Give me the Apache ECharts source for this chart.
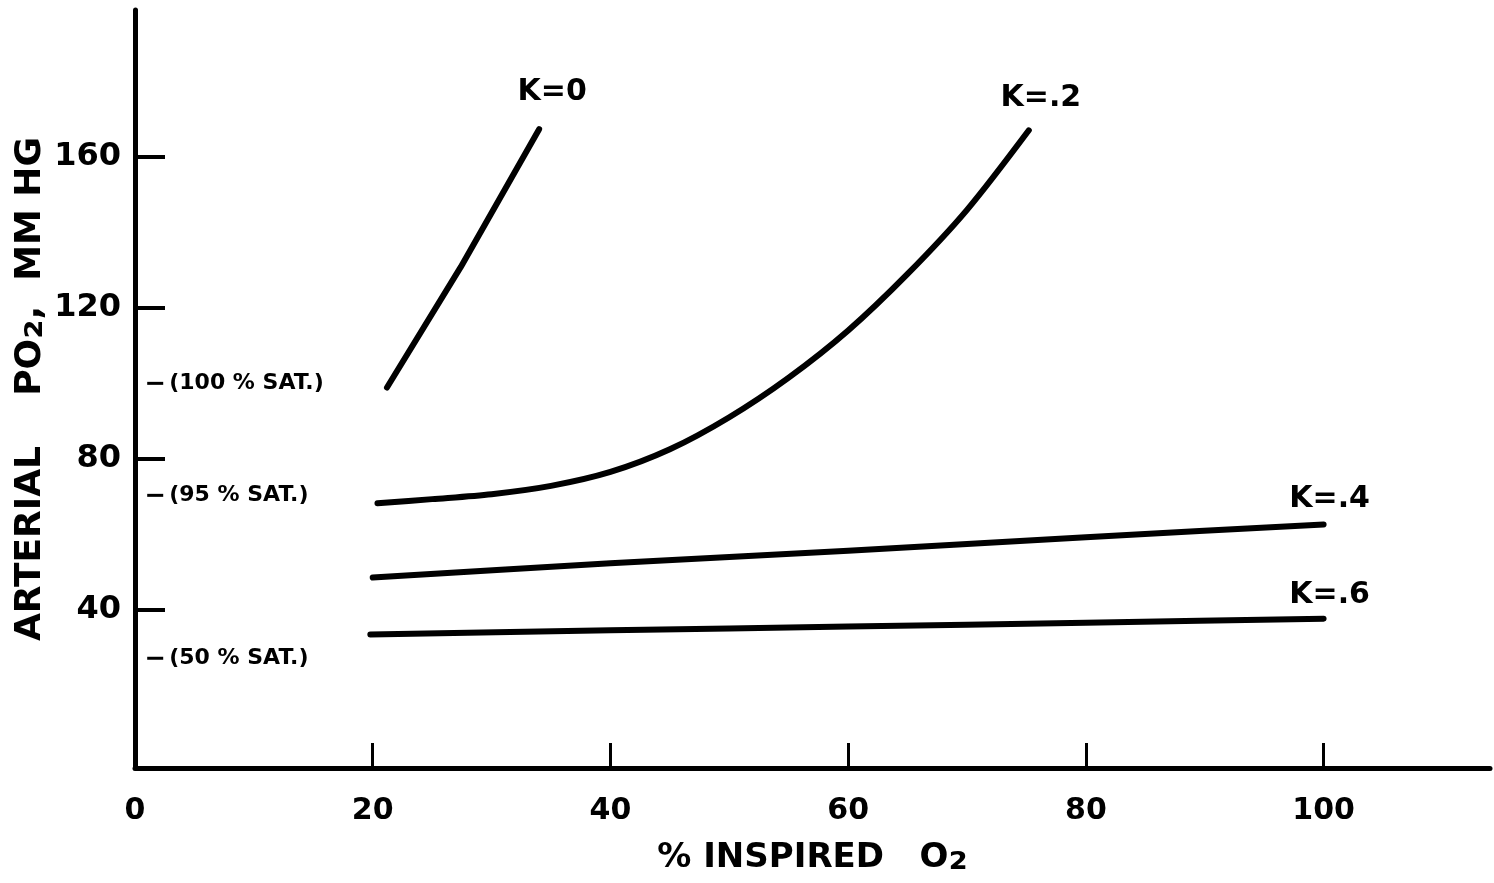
<!DOCTYPE html>
<html>
<head>
<meta charset="utf-8">
<script src="https://cdn.jsdelivr.net/npm/echarts@6/dist/echarts.min.js"></script>
<style>
  html, body { margin: 0; background: #fff; }
  #chart { width: 1494px; height: 883px; }
</style>
</head>
<body>
<div id="chart"></div>
<script>
// values
const xLabels = [0, 20, 40, 60, 80, 100];
const xTickValues = [20, 40, 60, 80, 100];
const yTicks = [40, 80, 120, 160];

const curveNames = ["K=0", "K=.2", "K=.4", "K=.6"];
const k0 = [[21.2, 98.9], [27.4, 130.8], [34.0, 167.4]];
const k2 = [
  [20.4, 68.2], [25, 69.3], [30, 70.6], [35, 72.8], [40, 76.5], [45, 82.5],
  [50, 91.0], [55, 101.5], [60, 114.0], [65, 129.0], [70, 146.0], [75.2, 167.1]
];
const k4 = [[20.0, 48.5], [40, 52.3], [60, 55.6], [80, 59.2], [100, 62.6]];
const k6 = [[19.8, 33.4], [40, 34.5], [60, 35.5], [80, 36.5], [100, 37.6]];

const satValues = [100, 70.3, 27.1];
const satLabels = ["(100 % SAT.)", "(95 % SAT.)", "(50 % SAT.)"];

const ink = "#000";
const font = "'DejaVu Sans', Verdana, sans-serif";

const chart = echarts.init(document.getElementById("chart"));

const curve = (name, pts, smooth, offset) => ({
  name: name,
  type: "line",
  data: pts,
  smooth: smooth,
  symbol: "none",
  lineStyle: { color: ink, width: 6, cap: "round", join: "round" },
  endLabel: {
    show: true,
    formatter: name,
    color: ink,
    fontFamily: font,
    fontWeight: "bold",
    fontSize: 30,
    align: "center",
    verticalAlign: "bottom",
    distance: 0,
    offset: offset,
  },
});

const option = {
  animation: false,
  backgroundColor: "#fff",
  grid: { left: 135, right: 4, top: 10, bottom: 115, outerBoundsMode: "none", containLabel: false },
  xAxis: {
    type: "value",
    min: 0,
    max: 114,
    axisLine: { show: true, onZero: false, lineStyle: { color: ink, width: 5 } },
    axisTick: {
      show: true,
      inside: true,
      length: 25,
      customValues: xTickValues,
      lineStyle: { color: ink, width: 3 },
    },
    axisLabel: {
      customValues: xLabels,
      color: ink,
      fontFamily: font,
      fontWeight: "bold",
      fontSize: 30,
      margin: 28,
    },
    splitLine: { show: false },
    name: "{a|% INSPIRED   O}{s|₂}",
    nameLocation: "middle",
    nameGap: 68,
    nameTextStyle: {
      rich: {
        a: { color: ink, fontFamily: font, fontWeight: "bold", fontSize: 34 },
        s: { color: ink, fontFamily: font, fontWeight: "bold", fontSize: 44 },
      },
    },
  },
  yAxis: {
    type: "value",
    min: -2,
    max: 199,
    axisLine: { show: true, onZero: false, lineStyle: { color: ink, width: 5 } },
    axisTick: {
      show: true,
      inside: true,
      length: 30,
      customValues: yTicks,
      lineStyle: { color: ink, width: 4 },
    },
    axisLabel: {
      customValues: yTicks,
      color: ink,
      fontFamily: font,
      fontWeight: "bold",
      fontSize: 32,
      margin: 14,
    },
    splitLine: { show: false },
    name: "{a|ARTERIAL    PO}{s|₂}{a|,  MM HG}",
    nameLocation: "middle",
    nameRotate: 90,
    nameGap: 82,
    nameMoveOverlap: false,
    nameTextStyle: {
      rich: {
        a: { color: ink, fontFamily: font, fontWeight: "bold", fontSize: 36 },
        s: { color: ink, fontFamily: font, fontWeight: "bold", fontSize: 44 },
      },
    },
  },
  series: [
    curve(curveNames[0], k0, false, [13, -22]),
    curve(curveNames[1], k2, 0.3, [12, -17]),
    curve(curveNames[2], k4, 0.2, [6, -10]),
    curve(curveNames[3], k6, 0.2, [6, -8]),
    {
      name: "saturation",
      type: "scatter",
      data: satValues.map((v) => [1.7, v]),
      symbol: "rect",
      symbolSize: [16, 3],
      itemStyle: { color: ink, opacity: 1 },
      label: {
        show: true,
        position: "right",
        distance: 6,
        formatter: (p) => satLabels[p.dataIndex],
        color: ink,
        fontFamily: font,
        fontWeight: "bold",
        fontSize: 22,
      },
    },
  ],
};

chart.setOption(option);
</script>
</body>
</html>
